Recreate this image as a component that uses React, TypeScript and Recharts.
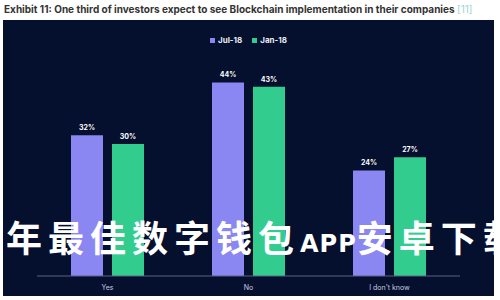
import React from 'react';
import { BarChart, Bar, XAxis, YAxis, Legend, LabelList } from 'recharts';

const categories = ['Yes', 'No', "I don't know"];
const jul18 = [32, 44, 24];
const jan18 = [30, 43, 27];
const seriesNames = ['Jul-18', 'Jan-18'];

const data = categories.map((name, i) => ({ name, jul18: jul18[i], jan18: jan18[i] }));

const PURPLE = '#8a86f2';
const GREEN = '#33cc8f';
const NAVY = '#050f2e';
const seriesColors = [PURPLE, GREEN];

const fmt = (v: any) => `${v}%`;

const TopLegend = () => (
  <div style={{ display: 'flex', justifyContent: 'center', gap: 10, fontSize: 8, fontWeight: 700, color: '#e8ebf5', height: 12 }}>
    {seriesNames.map((n, i) => (
      <span key={n} style={{ display: 'flex', alignItems: 'center', gap: 3 }}>
        <span style={{ width: 5, height: 5, background: seriesColors[i], display: 'inline-block' }} />
        {n}
      </span>
    ))}
  </div>
);

const App: React.FC = () => {
  return (
    <div
      style={{
        position: 'absolute',
        left: 0,
        top: 0,
        width: 500,
        height: 300,
        background: '#ffffff',
        overflow: 'hidden',
        fontFamily: 'Inter, "Noto Sans", sans-serif',
      }}
    >
      <div style={{ position: 'absolute', left: 4, top: 3, fontSize: 10, fontWeight: 700, color: '#333', whiteSpace: 'nowrap' }}>
        Exhibit 11: One third of investors expect to see Blockchain implementation in their companies{' '}
        <span style={{ color: '#9cd3d0', fontWeight: 400 }}>[11]</span>
      </div>
      <div style={{ position: 'absolute', left: 3, top: 20, width: 491, height: 276, background: NAVY }}>
        <BarChart
          width={491}
          height={276}
          data={data}
          margin={{ top: 24, right: 34, left: 34, bottom: 0 }}
          barGap={9}
          barSize={32}
        >
          <Legend verticalAlign="top" align="center" wrapperStyle={{ top: 14 }} content={<TopLegend />} />
          <XAxis
            dataKey="name"
            height={20}
            axisLine={{ stroke: '#5a6384' }}
            tickLine={false}
            tick={{ fontSize: 7, fill: '#c8cce0' }}
            tickMargin={3}
          />
          <YAxis hide domain={[0, 50]} />
          <Bar dataKey="jul18" name="Jul-18" fill={PURPLE} isAnimationActive={false}>
            <LabelList dataKey="jul18" position="top" formatter={fmt} style={{ fontSize: 7, fill: '#ffffff', fontWeight: 700 }} />
          </Bar>
          <Bar dataKey="jan18" name="Jan-18" fill={GREEN} isAnimationActive={false}>
            <LabelList dataKey="jan18" position="top" formatter={fmt} style={{ fontSize: 7, fill: '#ffffff', fontWeight: 700 }} />
          </Bar>
        </BarChart>
      </div>
      <div
        style={{
          position: 'absolute',
          left: 6,
          top: 212,
          fontSize: 36,
          fontWeight: 700,
          letterSpacing: 6,
          color: '#ffffff',
          whiteSpace: 'nowrap',
          fontFamily: '"Noto Sans CJK SC", sans-serif',
          lineHeight: '48px',
        }}
      >
        年最佳数字钱包<span style={{ fontSize: 24, letterSpacing: 1, fontFamily: '"DejaVu Sans", sans-serif' }}>APP</span>安卓下载
      </div>
    </div>
  );
};

export default App;
